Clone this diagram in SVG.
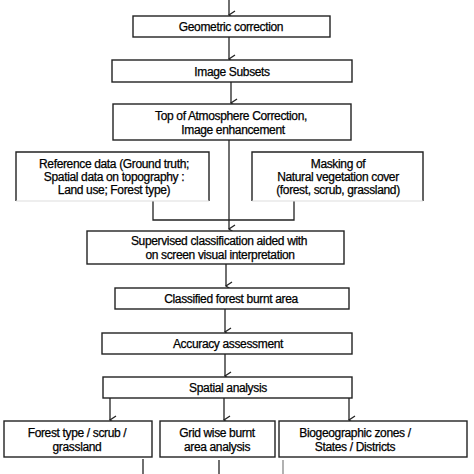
<svg xmlns="http://www.w3.org/2000/svg" width="474" height="474" viewBox="0 0 474 474">
<defs>
<marker id="ah" markerWidth="10" markerHeight="10" refX="5" refY="8" orient="auto-start-reverse" markerUnits="userSpaceOnUse" viewBox="0 0 10 10">
<polyline points="1,2 5,8 9,2" fill="none" stroke="#222" stroke-width="1.3"/>
</marker>
</defs>
<style>
rect.b{fill:#fff;stroke:#222;stroke-width:1.4}
path.o{fill:#fff;stroke:#222;stroke-width:1.4}
text{font-family:"Liberation Sans",Arial,sans-serif;font-size:12px;fill:#000;stroke:#000;stroke-width:0.25;text-anchor:middle;letter-spacing:-0.35px}
.c line,.c polyline{stroke:#222;stroke-width:1.3;fill:none}
</style>
<rect width="474" height="474" fill="#fff"/>
<g class="c" id="connectors">
<line x1="229" y1="0" x2="229" y2="15" marker-end="url(#ah)"/>
<line x1="229" y1="37" x2="229" y2="59" marker-end="url(#ah)"/>
<line x1="231" y1="82" x2="231" y2="103" marker-end="url(#ah)"/>
<line x1="229" y1="140" x2="229" y2="229" marker-end="url(#ah)"/>
<polyline points="153,201 153,220 294,220 294,201"/>
<line x1="226" y1="264" x2="226" y2="286" marker-end="url(#ah)"/>
<line x1="225" y1="309" x2="225" y2="332" marker-end="url(#ah)"/>
<line x1="225" y1="354" x2="225" y2="376" marker-end="url(#ah)"/>
<line x1="110" y1="398" x2="110" y2="420" marker-end="url(#ah)"/>
<line x1="224" y1="398" x2="224" y2="420" marker-end="url(#ah)"/>
<line x1="349" y1="398" x2="349" y2="420" marker-end="url(#ah)"/>
<line x1="143" y1="459" x2="143" y2="474"/>
<line x1="219" y1="460" x2="219" y2="474"/>
<line x1="283" y1="460" x2="283" y2="474" style="stroke:#888"/>
</g>
<g id="geometric"><rect class="b" x="133" y="16" width="197" height="21"/><text x="231" y="31">Geometric correction</text></g>
<g id="subsets"><rect class="b" x="112" y="60" width="240" height="22"/><text x="232" y="75.5">Image Subsets</text></g>
<g id="toa"><rect class="b" x="113" y="104" width="238" height="36"/><text x="231" y="120">Top of Atmosphere Correction,</text><text x="233" y="133.5">Image enhancement</text></g>
<g id="reference"><path class="o" d="M16,201 V152 H209 V201"/><line x1="16" y1="201" x2="209" y2="201" stroke="#ddd" stroke-width="1"/><text x="114" y="168">Reference data (Ground truth;</text><text x="114" y="181">Spatial data on topography :</text><text x="114" y="194">Land use; Forest type)</text></g>
<g id="masking"><path class="o" d="M252,201 V152 H423 V201"/><line x1="252" y1="201" x2="423" y2="201" stroke="#ddd" stroke-width="1"/><text x="338" y="168">Masking of</text><text x="338" y="181">Natural vegetation cover</text><text x="338" y="194">(forest, scrub, grassland)</text></g>
<g id="supervised"><rect class="b" x="87" y="231" width="257" height="33"/><text x="219" y="244.5">Supervised classification aided with</text><text x="220" y="258.5">on screen visual interpretation</text></g>
<g id="classified"><rect class="b" x="115" y="288" width="234" height="21"/><text x="231" y="302.5">Classified forest burnt area</text></g>
<g id="accuracy"><rect class="b" x="102" y="333" width="250" height="21"/><text x="228" y="347.5">Accuracy assessment</text></g>
<g id="spatial"><rect class="b" x="103" y="377" width="249" height="21"/><text x="228" y="392">Spatial analysis</text></g>
<g id="forest"><rect class="b" x="4" y="421" width="148" height="36"/><text x="77" y="437">Forest type / scrub /</text><text x="77" y="450.5">grassland</text></g>
<g id="grid"><rect class="b" x="160" y="421" width="115" height="36"/><text x="217" y="437">Grid wise burnt</text><text x="217" y="450.5">area analysis</text></g>
<g id="biogeo"><rect class="b" x="279" y="421" width="188" height="36"/><text x="355" y="437">Biogeographic zones /</text><text x="355" y="450.5">States / Districts</text></g>
</svg>
